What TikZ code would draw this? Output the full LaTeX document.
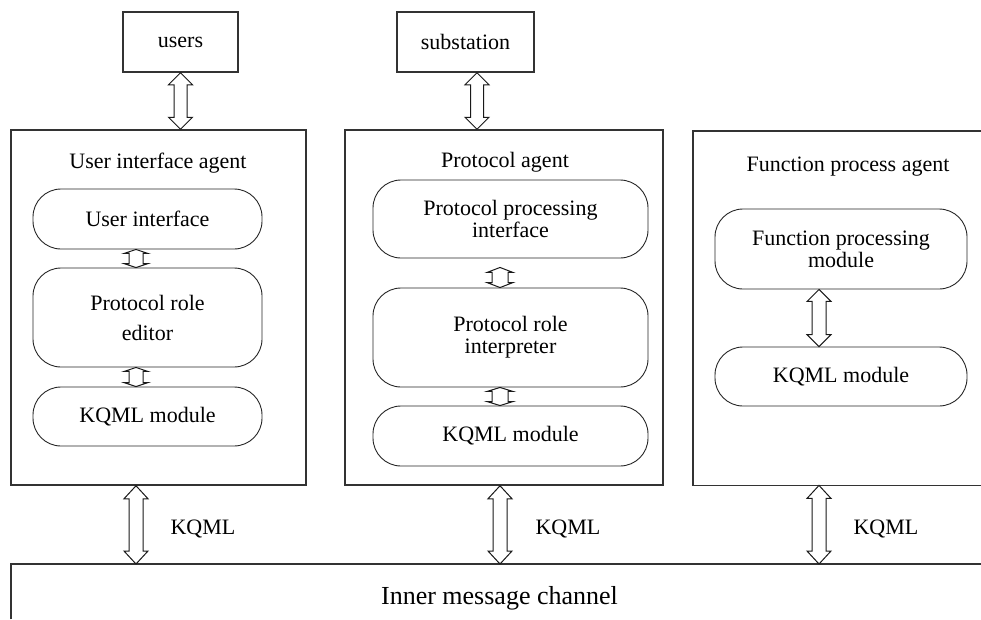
\documentclass[tikz,border=0pt]{standalone}
\usepackage{fontspec}
\setmainfont{LiberationSerif}[Extension=.ttf,UprightFont=*-Regular,BoldFont=*-Bold,ItalicFont=*-Italic]
\usetikzlibrary{calc}
% hollow vertical double arrow: #1 top point, #2 bottom point, #3 head half width, #4 shaft half width, #5 head length
\newcommand{\harrow}[5]{%
  \draw[arrowline] let \p1=#1, \p2=#2 in
    (\x1,\y1) -- (\x1+#3,\y1-#5) -- (\x1+#4,\y1-#5) -- (\x1+#4,\y2+#5) -- (\x1+#3,\y2+#5)
    -- (\x1,\y2) -- (\x1-#3,\y2+#5) -- (\x1-#4,\y2+#5) -- (\x1-#4,\y1-#5) -- (\x1-#3,\y1-#5) -- cycle;}
\begin{document}
\begin{tikzpicture}[x=1pt,y=-1pt,
  lbl/.style={font=\fontsize{22}{22}\selectfont},
  box/.style={draw=black!80,line width=1.5pt,inner sep=0pt},
  stad/.style={draw=black!85,line width=0.9pt,rounded corners=28pt,inner sep=0pt,align=center,font=\fontsize{22}{22}\selectfont},
  arrowline/.style={draw=black!90,line width=1pt,fill=white,line join=miter}]
\useasboundingbox (0,0) rectangle (981,619);

% top boxes
\node[box,lbl,minimum width=115pt,minimum height=60pt] (users) at (180.5,42) {users};
\node[box,lbl,minimum width=137pt,minimum height=60pt] (sub) at (465.5,42) {substation};

% agent boxes
\node[box,minimum width=295pt,minimum height=355pt] (uia) at (158.5,307.5) {};
\node[box,minimum width=318pt,minimum height=355pt] (pa) at (504,307.5) {};
\node[inner sep=0pt,minimum width=288pt,minimum height=354pt,anchor=north west] (fpa) at (693,131) {};
\draw[box] (fpa.north east) -- (fpa.north west) -- (fpa.south west) -- (fpa.south east);

\node[lbl,anchor=base] (uiat) at (158,168) {User interface agent};
\node[lbl,anchor=base] (pat) at (505,167) {Protocol agent};
\node[lbl,anchor=base] (fpat) at (848,171) {Function process agent};

% modules, box 1
\node[stad,minimum width=229pt,minimum height=60pt] (ui) at (147.5,219) {User interface};
\node[stad,minimum width=229pt,minimum height=99pt,font=\fontsize{22}{30}\selectfont] (pre) at (147.5,317.5) {Protocol role\\editor};
\node[stad,minimum width=229pt,minimum height=59pt] (km1) at (147.5,416.5) {KQML module};

% modules, box 2
\node[stad,minimum width=275pt,minimum height=78pt] (ppi) at (510.5,219) {Protocol processing\\interface};
\node[stad,minimum width=275pt,minimum height=99pt] (pri) at (510.5,337.5) {Protocol role\\interpreter};
\node[stad,minimum width=275pt,minimum height=60pt] (km2) at (510.5,436) {KQML module};

% modules, box 3
\node[stad,minimum width=252pt,minimum height=80pt] (fpm) at (841,249) {Function processing\\module};
\node[stad,minimum width=252pt,minimum height=59pt] (km3) at (841,376.5) {KQML module};

% channel
\node[inner sep=0pt,minimum width=970pt,minimum height=55pt,anchor=north west] (chan) at (11,564) {};
\draw[box] (chan.south west) -- (chan.north west) -- (chan.north east);
\node[font=\fontsize{26}{26}\selectfont,anchor=base] (chant) at (499.5,604) {Inner message channel};

% KQML labels
\node[lbl,anchor=base west] (k1) at (167,534) {KQML};
\node[lbl,anchor=base west] (k2) at (532,534) {KQML};
\node[lbl,anchor=base west] (k3) at (850,534) {KQML};

% coordinates for arrows
\coordinate (s1) at ([xshift=11.5pt]sub.south);
\coordinate (a1) at ([xshift=-11.5pt]ui.south);
\coordinate (a2) at ([xshift=-11.5pt]pre.south);
\coordinate (a3) at ([xshift=-10.5pt,yshift=-9pt]ppi.south);
\coordinate (a4) at ([xshift=-10.5pt]pri.south);
\coordinate (a5) at ([xshift=-22pt]fpm.south);
\coordinate (b1) at ([xshift=-22.5pt]uia.south);
\coordinate (b2) at ([xshift=-4pt]pa.south);
\coordinate (b3) at ([xshift=126pt]fpa.south west);

% big arrows
\harrow{(users.south)}{(users.south |- uia.north)}{12pt}{6.5pt}{12pt}
\harrow{(s1)}{(s1 |- pa.north)}{12pt}{6.5pt}{12pt}
\harrow{(a5)}{(a5 |- km3.north)}{12pt}{7pt}{12pt}
\harrow{(b1)}{(b1 |- chan.north)}{12pt}{7pt}{13pt}
\harrow{(b2)}{(b2 |- chan.north)}{12pt}{7pt}{13pt}
\harrow{(b3)}{(b3 |- chan.north)}{12pt}{7pt}{13pt}

% small arrows
\harrow{(a1)}{(a1 |- pre.north)}{12pt}{7pt}{4pt}
\harrow{(a2)}{(a2 |- km1.north)}{12pt}{7pt}{4pt}
\harrow{(a3)}{(a3 |- pri.north)}{13pt}{8pt}{5pt}
\harrow{(a4)}{(a4 |- km2.north)}{13pt}{8pt}{4pt}
\end{tikzpicture}
\end{document}
